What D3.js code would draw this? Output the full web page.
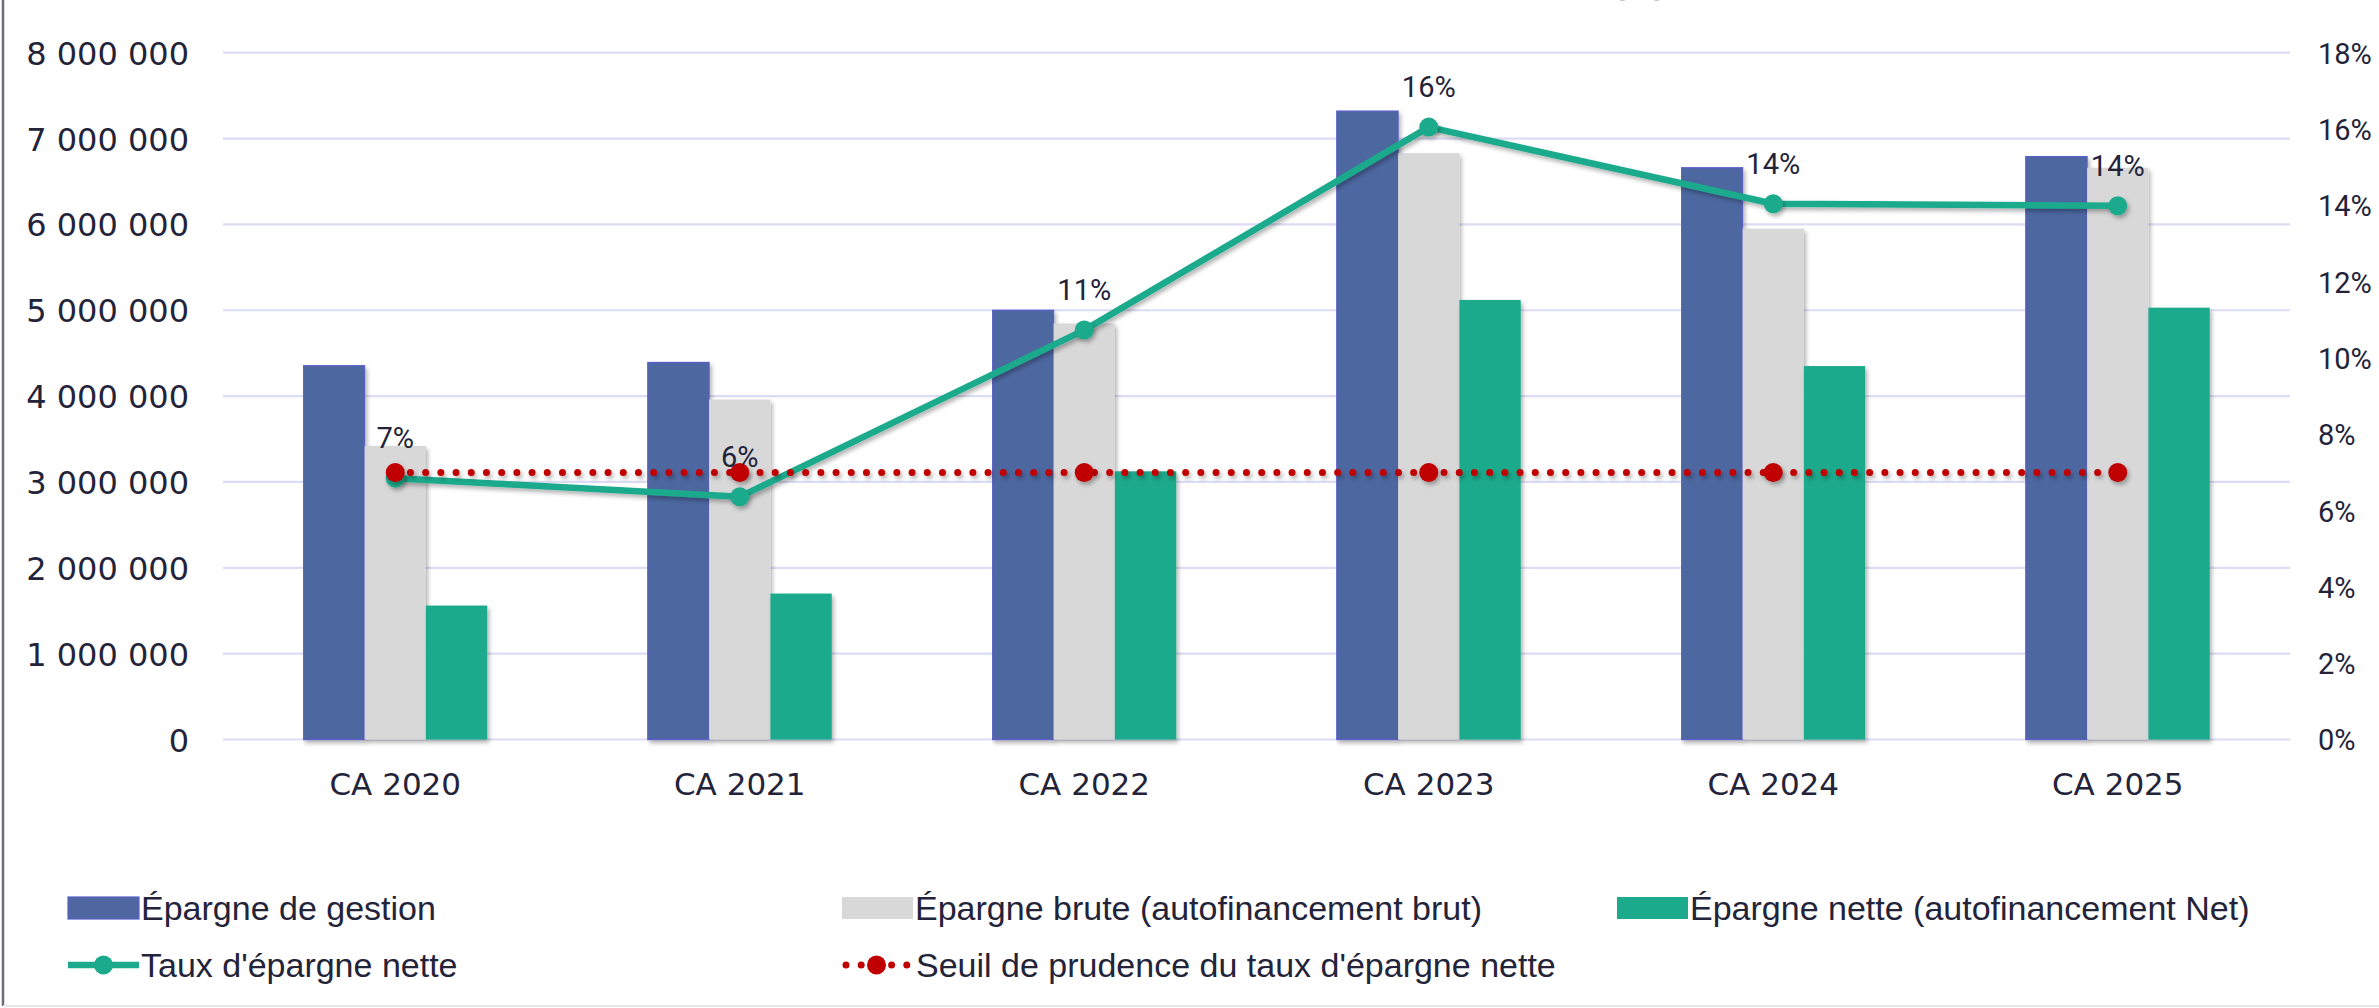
<!DOCTYPE html>
<html>
<head>
<meta charset="utf-8">
<script src="https://cdn.jsdelivr.net/npm/d3@7"></script>
<style>
  html, body { margin: 0; padding: 0; background: #ffffff; }
  svg { display: block; }
</style>
</head>
<body>
<svg id="chart" width="2379" height="1008"></svg>
<script>
// ---------- DATA ----------
const categories = ["CA 2020", "CA 2021", "CA 2022", "CA 2023", "CA 2024", "CA 2025"];
const epargneGestion = [4354000, 4392000, 5000000, 7320000, 6660000, 6790000];
const epargneBrute   = [3420000, 3960000, 4846000, 6830000, 5950000, 6660000];
const epargneNette   = [1560000, 1700000, 3124000, 5120000, 4350000, 5030000];
const tauxEpargneNette = [0.0685, 0.0636, 0.1073, 0.1605, 0.1404, 0.1399];
const tauxLabels = ["7%", "6%", "11%", "16%", "14%", "14%"];
const seuilPrudence = [0.07, 0.07, 0.07, 0.07, 0.07, 0.07];
const leftTicks = [0, 1000000, 2000000, 3000000, 4000000, 5000000, 6000000, 7000000, 8000000];
const rightTicks = [0, 0.02, 0.04, 0.06, 0.08, 0.10, 0.12, 0.14, 0.16, 0.18];
const barSeriesNames = ["Épargne de gestion", "Épargne brute (autofinancement brut)", "Épargne nette (autofinancement Net)"];
const lineSeriesNames = ["Taux d'épargne nette", "Seuil de prudence du taux d'épargne nette"];

// ---------- STYLE ----------
const colBlue = "#4e67a1", colBlueEdge = "#5b5fc9", colGray = "#d8d8d8", colGreen = "#1baa8c", colRed = "#c00000";
const gridCol = "#dcdcf4", textCol = "#23233a";
const axisFont = "'DejaVu Sans', sans-serif";
const pctFont = "Roboto, 'Liberation Sans', sans-serif";
const legendFont = "'Liberation Sans', Arial, sans-serif";

const svg = d3.select("#chart");
const defs = svg.append("defs");
const f = defs.append("filter").attr("id", "shadow").attr("filterUnits", "userSpaceOnUse")
  .attr("x", 0).attr("y", 0).attr("width", 2379).attr("height", 1008);
f.append("feDropShadow").attr("dx", 2).attr("dy", 3).attr("stdDeviation", 2.2).attr("flood-color", "#000").attr("flood-opacity", 0.3);

const plot = { left: 223, right: 2290, top: 52.7, bottom: 739.5 };

const x = d3.scaleBand().domain(categories).range([plot.left, plot.right]).paddingInner(0).paddingOuter(0);
const groupWidth = x.bandwidth() * 0.534;
const xs = d3.scaleBand().domain([0, 1, 2]).range([0, groupWidth]).padding(0);
const yL = d3.scaleLinear().domain([0, 8000000]).range([plot.bottom, plot.top]);
const yR = d3.scaleLinear().domain([0, 0.18]).range([plot.bottom, plot.top]);

// frame
svg.append("line").attr("x1", 3).attr("x2", 3).attr("y1", 0).attr("y2", 1006)
  .attr("stroke", "#6c6c7c").attr("stroke-width", 2.5);
svg.append("line").attr("x1", 3).attr("x2", 2379).attr("y1", 1006).attr("y2", 1006)
  .attr("stroke", "#e6e6ee").attr("stroke-width", 2);

// partially visible title (cut off at the top edge in the original)
svg.append("text").attr("x", 1612).attr("y", -4).attr("font-family", axisFont)
  .attr("font-weight", "bold").attr("font-size", 34).attr("fill", textCol).text("(€)");

// gridlines
const grid = svg.append("g");
grid.selectAll("line").data(leftTicks).join("line")
  .attr("x1", plot.left).attr("x2", plot.right)
  .attr("y1", d => yL(d)).attr("y2", d => yL(d))
  .attr("stroke", gridCol).attr("stroke-width", 2.2);

// left axis
const axL = d3.axisLeft(yL).tickValues(leftTicks).tickSize(0).tickPadding(0)
  .tickFormat(d => d3.format(",")(d).replace(/,/g, " "));
const gL = svg.append("g").attr("transform", "translate(189,0)").call(axL);
gL.select(".domain").remove();
gL.selectAll("text").attr("font-family", axisFont).attr("font-size", 32).attr("fill", textCol).attr("dy", "0.36em");

// right axis
const axR = d3.axisRight(yR).tickValues(rightTicks).tickSize(0).tickPadding(0).tickFormat(d3.format(".0%"));
const gR = svg.append("g").attr("transform", "translate(2318,0)").call(axR);
gR.select(".domain").remove();
gR.selectAll("text").attr("font-family", pctFont).attr("font-size", 29).attr("fill", textCol).attr("dy", "0.36em");

// x axis labels
const axX = d3.axisBottom(x).tickSize(0).tickPadding(0);
const gX = svg.append("g").attr("transform", `translate(0,${plot.bottom + 33})`).call(axX);
gX.select(".domain").remove();
gX.selectAll("text").attr("font-family", axisFont).attr("font-size", 31).attr("fill", textCol).attr("dy", "0.71em");

// bars
const barData = categories.map((c, i) => [
  { c, k: 0, v: epargneGestion[i] },
  { c, k: 1, v: epargneBrute[i] },
  { c, k: 2, v: epargneNette[i] }
]);
const fills = [colBlue, colGray, colGreen];
const gBars = svg.append("g");
const groups = gBars.selectAll("g").data(barData).join("g")
  .attr("transform", d => `translate(${x(d[0].c) + (x.bandwidth() - groupWidth) / 2},0)`);
groups.selectAll("rect").data(d => d).join("rect")
  .attr("x", d => xs(d.k)).attr("width", xs.bandwidth())
  .attr("y", d => yL(d.v)).attr("height", d => yL(0) - yL(d.v))
  .attr("fill", d => fills[d.k])
  .attr("stroke", d => d.k === 0 ? colBlueEdge : "none").attr("stroke-width", 1.2)
  .attr("filter", "url(#shadow)");

// lines
const cx = c => x(c) + x.bandwidth() / 2;
const tauxPts = categories.map((c, i) => ({ c, v: tauxEpargneNette[i], lab: tauxLabels[i] }));
const seuilPts = categories.map((c, i) => ({ c, v: seuilPrudence[i] }));
const lineGen = d3.line().x(d => cx(d.c)).y(d => yR(d.v));

svg.append("path").datum(tauxPts).attr("d", lineGen)
  .attr("fill", "none").attr("stroke", colGreen).attr("stroke-width", 6.5)
  .attr("stroke-linejoin", "round").attr("filter", "url(#shadow)");
svg.append("g").selectAll("circle").data(tauxPts).join("circle")
  .attr("cx", d => cx(d.c)).attr("cy", d => yR(d.v)).attr("r", 9.5)
  .attr("fill", colGreen).attr("filter", "url(#shadow)");

svg.append("path").datum(seuilPts).attr("d", lineGen)
  .attr("fill", "none").attr("stroke", colRed).attr("stroke-width", 7)
  .attr("stroke-linecap", "round").attr("stroke-dasharray", "0 15.2")
  .attr("filter", "url(#shadow)");
svg.append("g").selectAll("circle").data(seuilPts).join("circle")
  .attr("cx", d => cx(d.c)).attr("cy", d => yR(d.v)).attr("r", 9.5)
  .attr("fill", colRed).attr("filter", "url(#shadow)");

// data labels
svg.append("g").selectAll("text").data(tauxPts).join("text")
  .attr("x", d => cx(d.c)).attr("y", d => yR(d.v) - 30)
  .attr("text-anchor", "middle").attr("font-family", pctFont).attr("font-size", 29)
  .attr("fill", textCol).text(d => d.lab);

// legend
const legend = svg.append("g").attr("font-family", legendFont).attr("font-size", 34).attr("fill", textCol);
const barLegend = [
  { name: barSeriesNames[0], color: colBlue, x: 68 },
  { name: barSeriesNames[1], color: colGray, x: 842 },
  { name: barSeriesNames[2], color: colGreen, x: 1617 }
];
const row1 = 908, row2 = 965;
barLegend.forEach(d => {
  legend.append("rect").attr("x", d.x).attr("y", row1 - 11).attr("width", 71).attr("height", 22)
    .attr("fill", d.color).attr("stroke", d.color === colBlue ? colBlueEdge : "none").attr("stroke-width", 1.2);
  legend.append("text").attr("x", d.x + 73).attr("y", row1).attr("dy", "0.36em").text(d.name);
});
// taux legend
legend.append("line").attr("x1", 68).attr("x2", 139).attr("y1", row2).attr("y2", row2)
  .attr("stroke", colGreen).attr("stroke-width", 6.5);
legend.append("circle").attr("cx", 103.5).attr("cy", row2).attr("r", 9.5).attr("fill", colGreen);
legend.append("text").attr("x", 141).attr("y", row2).attr("dy", "0.36em").text(lineSeriesNames[0]);
// seuil legend
legend.append("line").attr("x1", 846).attr("x2", 909).attr("y1", row2).attr("y2", row2)
  .attr("stroke", colRed).attr("stroke-width", 7).attr("stroke-linecap", "round").attr("stroke-dasharray", "0 15.2");
legend.append("circle").attr("cx", 876.5).attr("cy", row2).attr("r", 9.5).attr("fill", colRed);
legend.append("text").attr("x", 916).attr("y", row2).attr("dy", "0.36em").text(lineSeriesNames[1]);
</script>
</body>
</html>
